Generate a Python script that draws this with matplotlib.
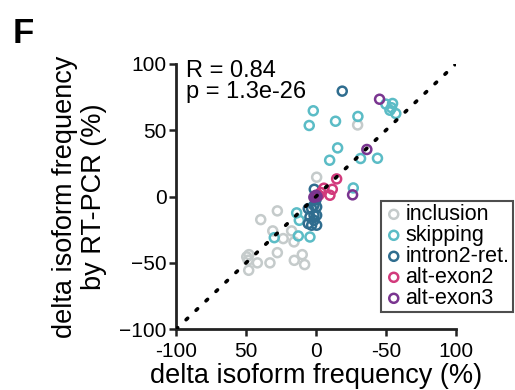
import matplotlib
matplotlib.use('Agg')
import matplotlib.pyplot as plt
import numpy as np

plt.rcParams['font.family'] = ['Liberation Sans', 'DejaVu Sans']

# values (x: sequencing, y: RT-PCR)
incl_x = [0.5, 29.8, -27.6, -39.5, -30.9, -17.4, -23.4, -15.7, -27.6, -47.9, -49.5,
          -41.9, -32.9, -48.1, -15.5, -9.8, -8.1, -48.5]
incl_y = [14.6, 54.0, -10.8, -17.4, -25.9, -25.9, -31.7, -34.2, -42.3, -43.8, -45.5,
          -50.0, -50.0, -55.6, -48.1, -43.8, -51.3, -48.0]

skip_x = [50.0, 54.8, 52.9, 57.1, 54.0, -1.9, -4.8, 14.0, 30.0, 15.5, 9.8, 31.9, 44.0,
          26.7, -13.8, -11.9, -12.6, -4.3, -29.8]
skip_y = [69.7, 70.2, 65.1, 62.6, 67.0, 64.7, 53.6, 56.8, 60.4, 36.7, 27.4, 28.7, 28.9,
          6.5, -12.3, -17.9, -29.7, -30.5, -31.0]

intr_x = [18.8, -1.2, -1.4, 0.5, -3.1, -5.5, -1.4, 0.5, -4.3, -5.5, -3.1, 0.5, -1.4, 0.0]
intr_y = [79.5, 5.5, -6.6, -7.8, -9.1, -9.1, -14.1, -14.1, -15.3, -20.4, -21.6, -21.6,
          -17.9, -2.5]

alt2_x = [14.8, 5.7, 11.7, 10.0, 2.0, 3.5]
alt2_y = [13.3, 6.3, 5.5, 1.0, 1.0, 3.0]

alt3_x = [45.5, 36.4, 26.2, -0.7, 0.0, -1.5, 0.8]
alt3_y = [73.4, 35.5, 1.3, 0.2, 1.0, -0.5, 0.0]

groups = ['inclusion', 'skipping', 'intron2-ret.', 'alt-exon2', 'alt-exon3']
colors = ['#c5cbcb', '#5bbcc6', '#2f6d8f', '#d23a7c', '#7a3590']

xticks = [-100, -50, 0, 50, 100]
xticklabels = ['-100', '50', '0', '-50', '100']
yticks = [-100, -50, 0, 50, 100]

fig = plt.figure(figsize=(5.15, 3.9), dpi=100)
ax = fig.add_axes([0.342, 0.156, 0.543, 0.68])

data = [(incl_x, incl_y), (skip_x, skip_y), (intr_x, intr_y), (alt2_x, alt2_y), (alt3_x, alt3_y)]
for (xs, ys), g, c in zip(data, groups, colors):
    ax.scatter(xs, ys, s=42, facecolors='none', edgecolors=c, linewidths=1.8, label=g, zorder=2)

ax.plot([-100, 100], [-100, 100], color='black', linestyle=(0, (0.6, 3.2)), linewidth=2.6,
        dash_capstyle='round', zorder=3)

ax.set_xlim(-100, 100)
ax.set_ylim(-100, 100)
ax.set_xticks(xticks)
ax.set_xticklabels(xticklabels)
ax.set_yticks(yticks)
ax.tick_params(labelsize=15, width=1.8, length=5, color='#222222')
ax.tick_params(axis='x', pad=4)
ax.tick_params(axis='y', pad=2)
for s in ['top', 'right']:
    ax.spines[s].set_visible(False)
for s in ['left', 'bottom']:
    ax.spines[s].set_linewidth(2)
    ax.spines[s].set_color('#222222')

ax.set_xlabel('delta isoform frequency (%)', fontsize=19.5, labelpad=2)
ax.set_ylabel('delta isoform frequency\nby RT-PCR (%)', fontsize=19.5, labelpad=9, linespacing=1.15)

ax.text(-93, 103, 'R = 0.84\np = 1.3e-26', fontsize=17, va='top', ha='left', linespacing=0.92)

leg = ax.legend(loc='lower right', bbox_to_anchor=(1.204, 0.064), fontsize=15.5, frameon=True,
                fancybox=False, edgecolor='#222222', handletextpad=0.1, borderpad=0.15,
                labelspacing=0.0, handlelength=0.9, borderaxespad=0, markerscale=1.0)
leg.get_frame().set_linewidth(1.5)

fig.text(0.025, 0.89, 'F', fontsize=25, fontweight='bold')

fig.savefig('out.png', dpi=100)
